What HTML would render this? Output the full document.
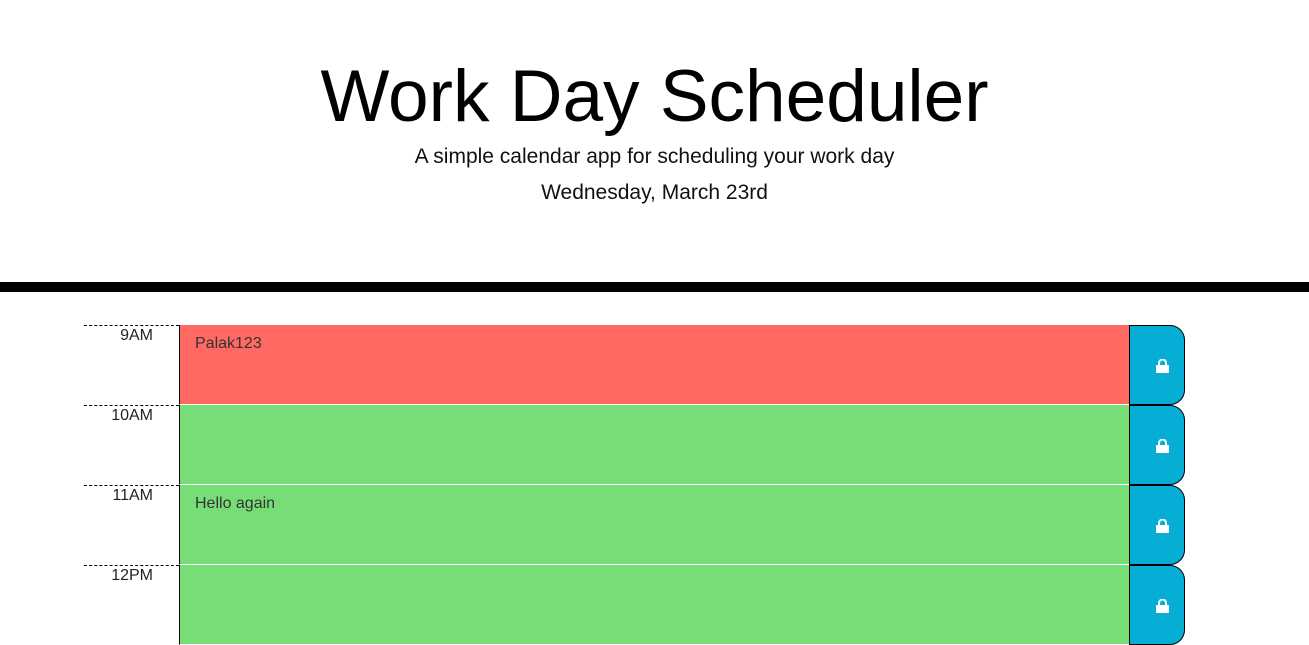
<!DOCTYPE html>
<html><head><meta charset="utf-8"><style>
body{margin:0;width:1309px;height:631px;overflow:hidden;background:#fff;font-family:"Liberation Sans",sans-serif;}
.jumbo{position:absolute;left:0;top:0;width:1309px;height:282px;text-align:center;border-bottom:10px solid #000;}
h1{position:absolute;left:0;width:100%;top:52px;margin:0;font-size:73px;font-weight:normal;line-height:90px;color:#000;}
.lead{position:absolute;left:0;width:100%;top:145px;font-size:21px;margin:0;color:#111;}
.date{position:absolute;left:0;width:100%;top:181px;font-size:21px;margin:0;color:#111;}
.row{position:absolute;left:84px;width:1101px;height:80px;}
.hour{position:absolute;left:0;top:0;width:95px;height:80px;border-top:1px dashed #000;box-sizing:border-box;text-align:right;padding-right:26px;font-size:16px;color:#222;line-height:18px;padding-top:1px;}
.desc{position:absolute;left:95px;top:0;width:950px;height:80px;border-left:1px solid #000;border-bottom:1px solid #fff;box-sizing:border-box;padding:10px 15px;font-size:16px;color:#333;}
.past{background:#ff6961}.future{background:#77dd77}
.save{position:absolute;left:1045px;top:0;width:56px;height:80px;background:#06aed5;border:1px solid #000;border-radius:0 15px 15px 0;box-sizing:border-box;}
.save svg{position:absolute;left:26px;top:33px}
</style></head><body>
<header class="jumbo">
<h1>Work Day Scheduler</h1>
<p class="lead">A simple calendar app for scheduling your work day</p>
<p class="date">Wednesday, March 23rd</p>
</header>
<div class="row" style="top:325px">
<div class="hour">9AM</div>
<div class="desc past">Palak123</div>
<div class="save"><svg width="13" height="14" viewBox="0 0 13 14"><path d="M3 6V4a3.5 3.5 0 0 1 7 0v2" fill="none" stroke="#fff" stroke-width="2"/><rect x="0" y="6" width="13" height="8" rx="1" fill="#fff"/></svg></div>
</div>
<div class="row" style="top:405px">
<div class="hour">10AM</div>
<div class="desc future"></div>
<div class="save"><svg width="13" height="14" viewBox="0 0 13 14"><path d="M3 6V4a3.5 3.5 0 0 1 7 0v2" fill="none" stroke="#fff" stroke-width="2"/><rect x="0" y="6" width="13" height="8" rx="1" fill="#fff"/></svg></div>
</div>
<div class="row" style="top:485px">
<div class="hour">11AM</div>
<div class="desc future">Hello again</div>
<div class="save"><svg width="13" height="14" viewBox="0 0 13 14"><path d="M3 6V4a3.5 3.5 0 0 1 7 0v2" fill="none" stroke="#fff" stroke-width="2"/><rect x="0" y="6" width="13" height="8" rx="1" fill="#fff"/></svg></div>
</div>
<div class="row" style="top:565px">
<div class="hour">12PM</div>
<div class="desc future"></div>
<div class="save"><svg width="13" height="14" viewBox="0 0 13 14"><path d="M3 6V4a3.5 3.5 0 0 1 7 0v2" fill="none" stroke="#fff" stroke-width="2"/><rect x="0" y="6" width="13" height="8" rx="1" fill="#fff"/></svg></div>
</div>
</body></html>
